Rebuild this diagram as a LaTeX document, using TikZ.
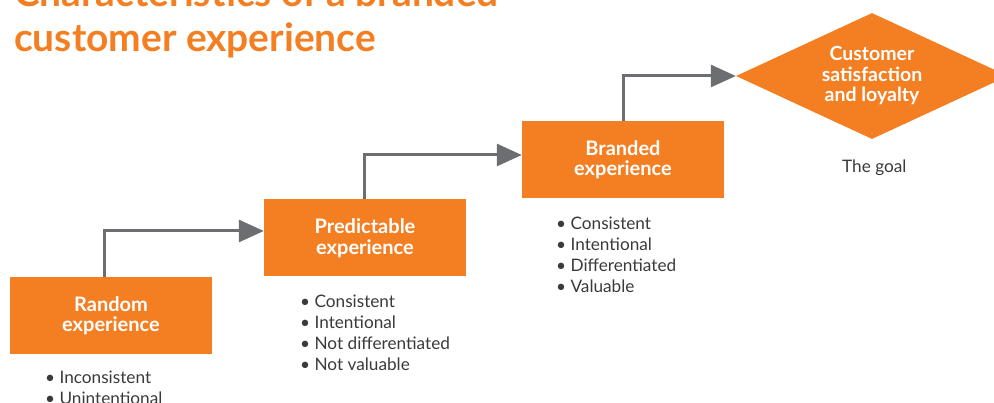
\documentclass[tikz,border=0pt]{standalone}
\usepackage{fontspec}
\setmainfont{Lato}
\usepackage{xcolor}
\usetikzlibrary{arrows.meta,positioning,shapes.geometric}
\definecolor{brandorange}{HTML}{F37F22}
\definecolor{arrowgray}{HTML}{6D6E71}
\definecolor{textgray}{HTML}{3A3A3C}
\tikzset{
	stage/.style={
			fill=brandorange, text=white, align=center, inner sep=0pt,
			minimum width=202pt, minimum height=77pt,
			font=\bfseries\fontsize{20}{20.5}\selectfont
		},
	goal/.style={
			diamond, aspect=2.16, fill=brandorange, text=white, align=center,
			inner sep=0pt, minimum width=272pt, minimum height=126pt,
			font=\bfseries\fontsize{19.5}{20.5}\selectfont
		},
	traits/.style={
			anchor=base west, align=left, inner sep=0pt, text=textgray,
			font=\fontsize{17.2}{20.7}\selectfont
		},
	flow/.style={
			draw=arrowgray, line width=3pt,
			-{Triangle[length=25pt,width=22pt]}
		}
}

\begin{document}
\begin{tikzpicture}[x=1pt,y=-1pt]
        \useasboundingbox (0,0) rectangle (994,403);
        \clip (0,0) rectangle (994,403);
        % base anchor sits on the last line
        \node[anchor=base west,align=left,inner sep=0pt,text=brandorange,
            font=\bfseries\fontsize{38.9}{45}\selectfont] (title) at (14,52)
            {Characteristics of a branded\\customer experience};
        \node[stage] (random) at (111,315.5) {Random\\experience};
        \node[stage] (predict) at (365,238) {Predictable\\experience};
        \node[stage] (branded) at (623,159.5) {Branded\\experience};
        \node[goal] (satisfaction) at (872,76) {Customer\\satisfaction\\and loyalty};
        \node[traits] (random_list) at (45,404.7) {• Inconsistent\\• Unintentional};
        \node[traits] (predict_list) at (300,370.1) {• Consistent\\• Intentional\\• Not differentiated\\• Not valuable};
        \node[traits] (branded_list) at (556,292.1) {• Consistent\\• Intentional\\• Differentiated\\• Valuable};
        \node[traits] (goal_note) at (842,173) {The goal};
        \draw[flow] ([xshift=-7pt]random.north) |- ([yshift=7pt]predict.west);
        \draw[flow] ([xshift=-1pt]predict.north) |- ([yshift=4.5pt]branded.west);
        \draw[flow] (branded.north) |- (satisfaction.west);
    \end{tikzpicture}
\end{document}
